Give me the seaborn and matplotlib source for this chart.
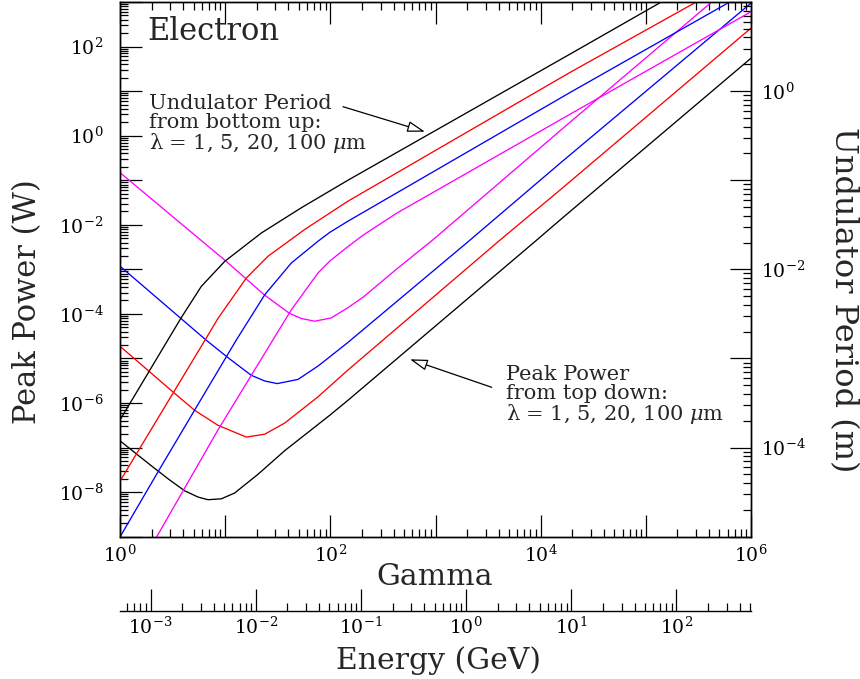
import matplotlib
matplotlib.use("Agg")
import math
import matplotlib.pyplot as plt
import matplotlib.ticker as mticker
import pandas as pd
import seaborn as sns

# ---------------- data ----------------
lam_labels = ["1 um", "5 um", "20 um", "100 um"]
lam_colors = ["#ff00ff", "#0000ff", "#ff0000", "#000000"]

# Peak power (W, left axis) versus gamma
pp_1_gamma = [1, 9.91, 23.8, 41.1, 53.0, 71.0, 102, 147, 206, 428, 953, 19000, 4.23e5]
pp_1_power = [0.148, 1.61e-3, 2.63e-4, 1.02e-4, 7.89e-5, 6.85e-5, 8.13e-5, 1.38e-4,
              2.40e-4, 1.02e-3, 4.68e-3, 2.0, 1000]

pp_5_gamma = [1, 6.62, 10.6, 17.7, 23.8, 31.3, 49.3, 76.4, 99.3, 147, 2051, 15280, 1e6]
pp_5_power = [1.18e-3, 2.56e-5, 1.05e-5, 4.19e-6, 3.12e-6, 2.73e-6, 3.39e-6, 6.76e-6,
              1.10e-5, 2.29e-5, 4.21e-3, 0.240, 944]

pp_20_gamma = [1, 3.19, 5.13, 8.55, 15.9, 23.8, 36.8, 76.4, 147, 4100, 15280, 1e6]
pp_20_power = [1.88e-5, 1.77e-6, 6.85e-7, 3.16e-7, 1.72e-7, 2.0e-7, 3.55e-7, 1.38e-6,
               5.5e-6, 4.53e-3, 6.03e-2, 259]

pp_100_gamma = [1, 1.43, 1.99, 2.86, 4.12, 5.52, 6.87, 9.18, 12.3, 20.5, 36.8, 99.3, 147,
                9160, 15280, 1e6]
pp_100_power = [1.42e-7, 7.24e-8, 3.89e-8, 2.0e-8, 1.07e-8, 7.76e-9, 6.76e-9, 7.08e-9,
                9.55e-9, 2.51e-8, 8.51e-8, 5.37e-7, 1.15e-6, 4.53e-3, 1.28e-2, 54.8]

# Undulator period (m, right axis) versus gamma
up_1_gamma = [2.23, 8.55, 28.5, 42.6, 76.4, 99.3, 147, 206, 428, 19000, 1e6]
up_1_period = [9.93e-6, 1.58e-4, 1.62e-3, 3.52e-3, 9.12e-3, 1.245e-2, 1.80e-2, 2.43e-2,
               4.27e-2, 0.550, 7.78]

up_5_gamma = [1, 2.30, 5.13, 12.8, 23.8, 42.6, 76.4, 99.3, 147, 19000, 6.546e5]
up_5_period = [9.93e-6, 5.35e-5, 2.64e-4, 1.62e-3, 5.19e-3, 1.18e-2, 2.07e-2, 2.61e-2,
               3.47e-2, 0.964, 10.3]

up_20_gamma = [1, 6.62, 8.55, 15.9, 25.5, 57.0, 147, 19000, 3.155e5]
up_20_period = [4.2e-5, 1.70e-3, 2.82e-3, 8.0e-3, 1.40e-2, 2.80e-2, 5.82e-2, 1.62, 10.3]

up_100_gamma = [1, 2.86, 3.83, 5.93, 9.91, 22.1, 53.0, 147, 19000, 1.466e5]
up_100_period = [2.04e-4, 1.62e-3, 2.88e-3, 6.44e-3, 1.23e-2, 2.56e-2, 4.91e-2, 0.100,
                 2.60, 10.3]

gamma_lim = (1, 1e6)
power_lim = (1e-9, 1e3)
period_lim = (1e-5, 1e1)
electron_rest_energy_gev = 0.511e-3

# ---------------- build tables ----------------
def long_table(gammas, values, name):
    frames = []
    for g, v, lab in zip(gammas, values, lam_labels):
        frames.append(pd.DataFrame({"gamma": g, name: v, "lam": lab}))
    return pd.concat(frames, ignore_index=True)

pp_df = long_table([pp_1_gamma, pp_5_gamma, pp_20_gamma, pp_100_gamma],
                   [pp_1_power, pp_5_power, pp_20_power, pp_100_power], "power")
up_df = long_table([up_1_gamma, up_5_gamma, up_20_gamma, up_100_gamma],
                   [up_1_period, up_5_period, up_20_period, up_100_period], "period")
palette = dict(zip(lam_labels, lam_colors))

# ---------------- style ----------------
sns.set_theme(style="ticks")
plt.rcParams["font.family"] = ["DejaVu Serif"]
plt.rcParams["mathtext.fontset"] = "dejavuserif"
plt.rcParams["axes.linewidth"] = 1.0

W, H = 860, 679
fig = plt.figure(figsize=(W / 100, H / 100), dpi=100)
L, R, T, B = 120, 751, 2, 536.7
ax = fig.add_axes([L / W, 1 - B / H, (R - L) / W, (B - T) / H])
ax.set_xscale("log")
ax.set_yscale("log")
ax.set_xlim(*gamma_lim)
ax.set_ylim(*power_lim)
ax2 = ax.twinx()
ax2.set_yscale("log")
ax2.set_ylim(*period_lim)

sns.lineplot(data=pp_df, x="gamma", y="power", hue="lam", palette=palette,
             estimator=None, legend=False, ax=ax, linewidth=0.95)
sns.lineplot(data=up_df, x="gamma", y="period", hue="lam", palette=palette,
             estimator=None, legend=False, ax=ax2, linewidth=0.95)
ax.set_xlim(*gamma_lim)
ax.set_ylim(*power_lim)
ax2.set_ylim(*period_lim)
ax.set_xlabel("")
ax.set_ylabel("")
ax2.set_ylabel("")


def decades(lo, hi):
    a = math.ceil(math.log10(lo) - 1e-9)
    b = math.floor(math.log10(hi) + 1e-9)
    return [10.0 ** e for e in range(a, b + 1)]


def minors(lo, hi):
    out = []
    for e in range(math.floor(math.log10(lo)), math.ceil(math.log10(hi)) + 1):
        for s in range(2, 10):
            v = s * 10.0 ** e
            if lo < v < hi:
                out.append(v)
    return out


def even_fmt(v, pos):
    e = int(round(math.log10(v)))
    return r"$10^{%d}$" % e if e % 2 == 0 else ""


def all_fmt(v, pos):
    e = int(round(math.log10(v)))
    return r"$10^{%d}$" % e


for axis, lim in [(ax.xaxis, gamma_lim), (ax.yaxis, power_lim), (ax2.yaxis, period_lim)]:
    axis.set_major_locator(mticker.FixedLocator(decades(*lim)))
    axis.set_minor_locator(mticker.FixedLocator(minors(*lim)))
    axis.set_major_formatter(mticker.FuncFormatter(even_fmt))
    axis.set_minor_formatter(mticker.NullFormatter())

tick_fs = 13.5
ax.tick_params(axis="both", which="both", direction="in", width=0.9, labelsize=tick_fs,
               top=True, right=False, colors="black")
ax.tick_params(which="major", length=16)
ax.tick_params(which="minor", length=5.5)
ax.tick_params(axis="x", pad=6)
ax.tick_params(axis="y", pad=12)
ax2.tick_params(axis="y", which="both", direction="in", width=0.9, labelsize=tick_fs,
                right=True, left=False, colors="black")
ax2.tick_params(which="major", length=15)
ax2.tick_params(which="minor", length=5.5)
ax2.tick_params(axis="y", pad=7)
for s in list(ax.spines.values()) + list(ax2.spines.values()):
    s.set_color("black")

ax.set_xlabel("Gamma", fontsize=21.5, va="center")
ax.xaxis.set_label_coords((435 - L) / (R - L), (B - 577) / (B - T))
ax.set_ylabel("Peak Power (W)", fontsize=22, va="center")
ax.yaxis.set_label_coords((28 - L) / (R - L), (B - 302) / (B - T))
ax2.set_ylabel("Undulator Period (m)", fontsize=23, rotation=-90, va="center")
ax2.yaxis.set_label_coords((843 - L) / (R - L), (B - 300) / (B - T))


def px(xp, yp):
    return ((xp - L) / (R - L), (B - yp) / (B - T))


# annotations
ax.text(*px(147, 31), "Electron", transform=ax.transAxes,
        fontsize=22, ha="left", va="center")
ax.text(*px(149, 94),
        "Undulator Period\nfrom bottom up:\n\u03bb = 1, 5, 20, 100 $\\mu$m",
        transform=ax.transAxes, fontsize=15, ha="left", va="top", linespacing=0.97)
ax.text(*px(506, 365),
        "Peak Power\nfrom top down:\n\u03bb = 1, 5, 20, 100 $\\mu$m",
        transform=ax.transAxes, fontsize=15, ha="left", va="top", linespacing=0.97)
arrow_kw = dict(arrowstyle="-|>,head_length=0.9,head_width=0.28", fc="white", ec="black",
                lw=0.9, shrinkA=0, shrinkB=0)
ax.annotate("", xy=px(425, 131.7), xytext=px(343, 106.7), xycoords="axes fraction",
            textcoords="axes fraction", arrowprops=arrow_kw)
ax.annotate("", xy=px(410, 359.3), xytext=px(491.7, 387.3), xycoords="axes fraction",
            textcoords="axes fraction", arrowprops=arrow_kw)

# energy axis
EY = 611
axe = fig.add_axes([L / W, 1 - EY / H, (R - L) / W, 20 / H])
axe.patch.set_visible(False)
for side in ["left", "right", "top"]:
    axe.spines[side].set_visible(False)
axe.spines["bottom"].set_color("black")
axe.set_xscale("log")
energy_lim = (gamma_lim[0] * electron_rest_energy_gev, gamma_lim[1] * electron_rest_energy_gev)
axe.set_xlim(*energy_lim)
axe.set_yticks([])
axe.xaxis.set_major_locator(mticker.FixedLocator(decades(*energy_lim)))
axe.xaxis.set_minor_locator(mticker.FixedLocator(minors(*energy_lim)))
axe.xaxis.set_major_formatter(mticker.FuncFormatter(all_fmt))
axe.xaxis.set_minor_formatter(mticker.NullFormatter())
axe.tick_params(axis="x", which="both", direction="in", width=0.9, labelsize=tick_fs, pad=4,
                colors="black")
axe.tick_params(which="major", length=16)
axe.tick_params(which="minor", length=5.5)
axe.set_xlabel("Energy (GeV)", fontsize=21.5, va="center")
axe.xaxis.set_label_coords((438 - L) / (R - L), (EY - 661) / 20)

fig.savefig("out.png", dpi=100)
